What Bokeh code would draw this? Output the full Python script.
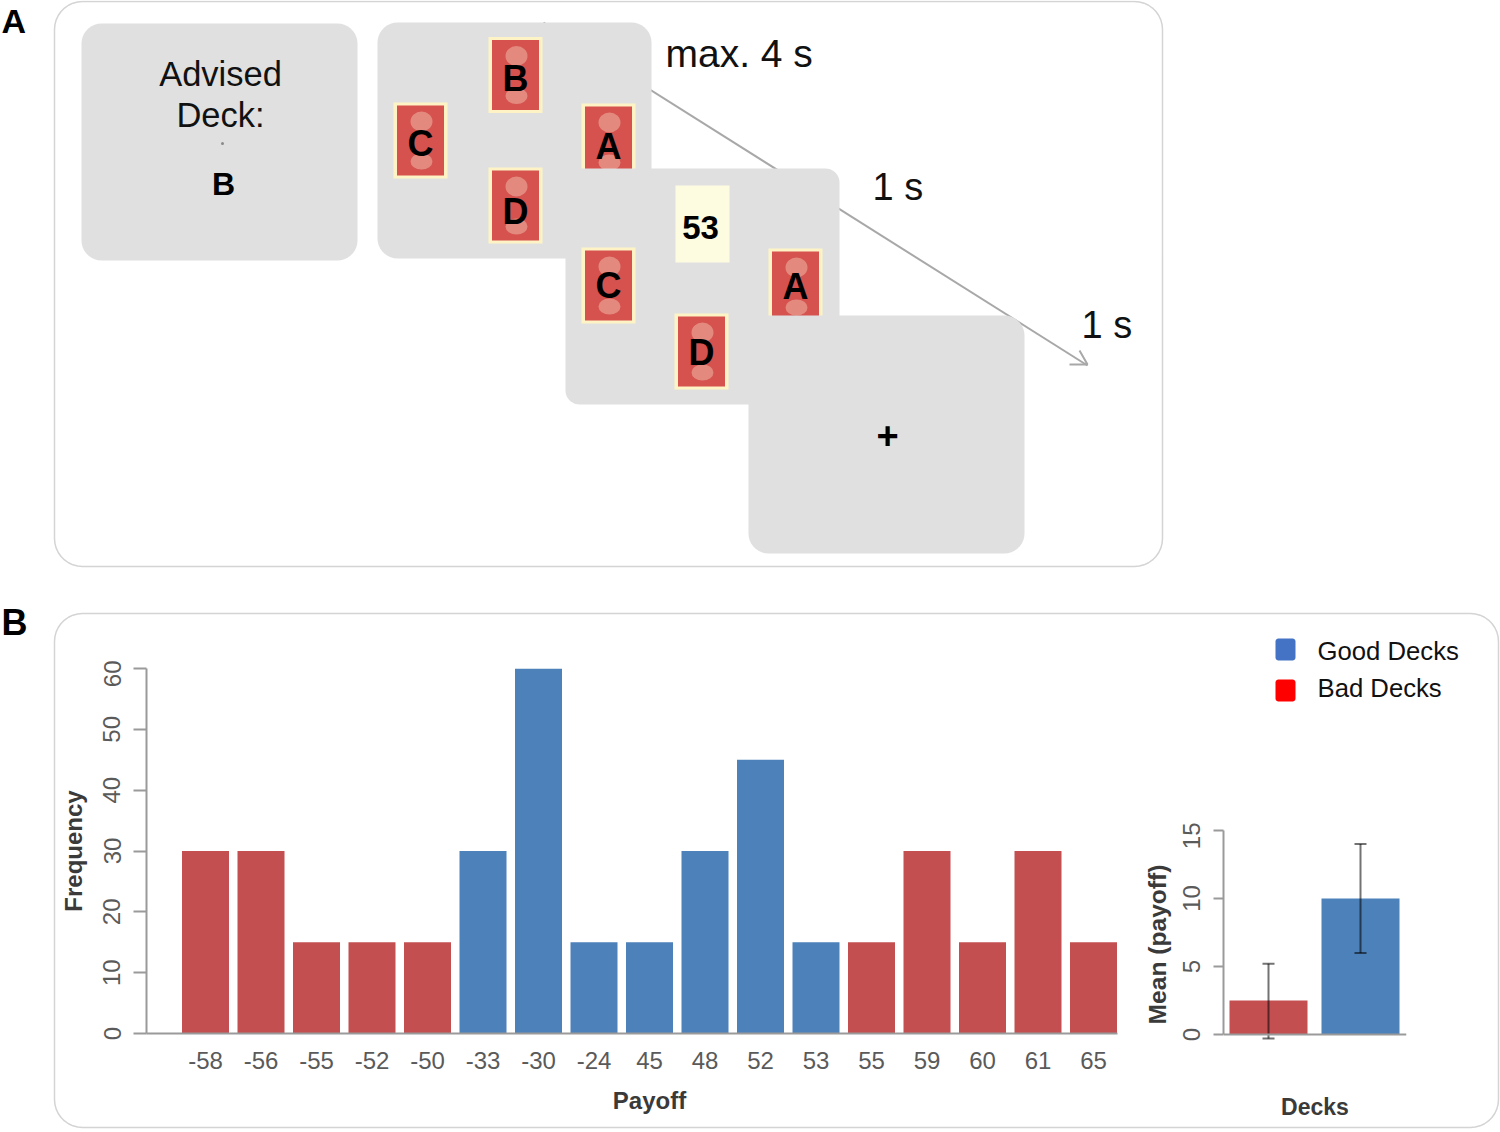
import numpy as np
from bokeh.plotting import figure
from bokeh.models import Range1d, FixedTicker, Column, LinearAxis
from bokeh.core.properties import value
from bokeh.embed import file_html
from bokeh.resources import INLINE

# ---- data ----
payoff_labels = ["-58","-56","-55","-52","-50","-33","-30","-24","45","48","52","53","55","59","60","61","65"]
frequency = [30,30,15,15,15,30,60,15,15,30,45,15,15,30,15,30,15]
deck_kind = ["bad","bad","bad","bad","bad","good","good","good","good","good","good","good","bad","bad","bad","bad","bad"]
deck_names = ["Bad","Good"]
deck_means = [2.5,10]
deck_low = [-0.3,6]
deck_high = [5.2,14]
freq_ticks = [0,10,20,30,40,50,60]
mean_ticks = [0,5,10,15]

RED = "#c34f50"; BLUE = "#4c81b9"; GREY = "#e0e0e0"
FONT = value("Liberation Sans")
TICK = "#5a5a5a"; AX = "#9a9a9a"

# ---- background page: diagram in pixel coordinates ----
bg = figure(width=1500, height=1132, x_range=Range1d(0,1500), y_range=Range1d(1132,0),
            x_axis_location=None, y_axis_location=None, toolbar_location=None,
            output_backend="svg", min_border=0, outline_line_color=None)
bg.grid.visible = False

def rr(x0,y0,x1,y1,r):
    t = np.linspace(0,np.pi/2,10)
    xs = np.concatenate([x1-r+r*np.sin(t), x1-r+r*np.cos(t), x0+r-r*np.sin(t), x0+r-r*np.cos(t)])
    ys = np.concatenate([y0+r-r*np.cos(t), y1-r+r*np.sin(t), y1-r+r*np.cos(t), y0+r-r*np.sin(t)])
    return xs, ys

def box(x0,y0,x1,y1,r,fill=None,line=None,lw=1.5):
    xs,ys = rr(x0,y0,x1,y1,r)
    bg.patch(xs,ys,fill_color=fill,line_color=line,line_width=lw)

def label(x,y,t,size,bold=False,align="center",color="#111111"):
    bg.text([x],[y],text=[t],text_font=FONT,text_font_size=f"{size}px",
            text_font_style="bold" if bold else "normal",text_align=align,
            text_baseline="middle",text_color=color)

def card(cx,cy,letter,dy):
    bg.quad(left=[cx-27],right=[cx+27],top=[cy-38],bottom=[cy+38],fill_color="#fdf3c4",line_color=None)
    bg.quad(left=[cx-23.5],right=[cx+23.5],top=[cy-35],bottom=[cy+35],fill_color="#d5524f",line_color=None)
    bg.ellipse([cx+1],[cy-19],width=22,height=20,fill_color="#eba898",fill_alpha=0.65,line_color=None)
    bg.ellipse([cx+1],[cy+21],width=22,height=16,fill_color="#eba898",fill_alpha=0.65,line_color=None)
    label(cx,cy+dy,letter,36,True,color="#000000")

label(1,20,"A",34,True,"left","#000000")
label(1,622,"B",36,True,"left","#000000")
box(54,1,1162,566,28,"#ffffff","#d4d4d4",1.5)
box(54,613,1498,1127,28,"#ffffff","#d4d4d4",1.5)

# arrow
bg.line([543,1087],[22,365],line_color="#a8a8a8",line_width=2)
bg.line([1069,1087,1079],[364,364,350],line_color="#a8a8a8",line_width=2)

box(81,23,357,260,20,GREY)
label(220,73,"Advised",34.5); label(220,114,"Deck:",34.5)
bg.scatter([222],[143],size=3,fill_color="#8a8a8a",line_color=None)
label(223,183,"B",32,True,color="#000000")

box(377,22,651,258,20,GREY)
card(515,74.5,"B",3); card(420,140,"C",3); card(608,141,"A",5); card(515,205,"D",6)

box(565,168,839,404,14,GREY)
bg.quad(left=[675],right=[729],top=[185],bottom=[262],fill_color="#fdfbe0",line_color=None)
label(700,227,"53",33,True,color="#000000")
card(608,285,"C",0); card(795,286,"A",0); card(701,351,"D",1)

box(748,315,1024,553,20,GREY)
label(887,435,"+",38,True,color="#000000")

label(665,53,"max. 4 s",39,align="left")
label(872,186,"1 s",38,align="left")
label(1081,324,"1 s",38,align="left")

# legend
box(1275,638,1295,660,3,"#4472c4")
box(1275,679,1295,701,3,"#ff0000")
label(1317,650,"Good Decks",25.7,align="left")
label(1317,687,"Bad Decks",25.7,align="left")

def style_axis(ax):
    ax.axis_line_color = AX; ax.axis_line_width = 2
    ax.major_tick_line_color = AX; ax.major_tick_line_width = 2
    ax.minor_tick_line_color = None
    ax.major_label_text_color = TICK
    ax.major_label_text_font = "Liberation Sans"
    ax.axis_label_text_font = "Liberation Sans"
    ax.axis_label_text_font_style = "bold"
    ax.axis_label_text_color = "#3a3a3a"

# ---- main bar chart ----
n = len(payoff_labels)
pos = list(range(n))
STEP = 55.5
x0 = (146-205)/STEP
F1W, F1H = 1006, 365
c1 = figure(frame_width=F1W, frame_height=F1H,
            x_range=Range1d(x0, x0+F1W/STEP), y_range=Range1d(0,60),
            toolbar_location=None, output_backend="svg",
            min_border_left=96, min_border_top=8, min_border_bottom=96, min_border_right=4,
            background_fill_color=None, border_fill_color=None, outline_line_color=None)
c1.grid.visible = False
c1.vbar(x=pos, top=frequency, width=47/STEP, line_color=None,
        fill_color=[RED if k=="bad" else BLUE for k in deck_kind])
xa = c1.xaxis[0]; ya = c1.yaxis[0]
style_axis(xa); style_axis(ya)
xa.ticker = FixedTicker(ticks=pos)
xa.major_label_overrides = {i:s for i,s in zip(pos,payoff_labels)}
xa.major_tick_line_color = None
xa.major_label_text_font_size = "24px"
xa.major_label_standoff = 12
xa.axis_label = "Payoff"; xa.axis_label_text_font_size = "24px"; xa.axis_label_standoff = 15
xa.bounds = (x0, x0+(1117-146)/STEP)
ya.ticker = FixedTicker(ticks=freq_ticks)
ya.bounds = (0,60)
ya.major_tick_out = 13; ya.major_tick_in = 0
ya.major_label_orientation = "vertical"
ya.major_label_text_font_size = "24px"
ya.major_label_standoff = 13
ya.axis_label = "Frequency"; ya.axis_label_text_font_size = "24px"; ya.axis_label_standoff = 14

# ---- small bar chart ----
B_STEP = 92
MEAN_PX = 13.6
xb0 = (1223-1268)/B_STEP
F2W, F2H = 183, 228
c2 = figure(frame_width=F2W, frame_height=F2H,
            x_range=Range1d(xb0, xb0+F2W/B_STEP), y_range=Range1d(15-F2H/MEAN_PX,15),
            toolbar_location=None, output_backend="svg",
            min_border_left=96, min_border_top=8, min_border_bottom=70, min_border_right=6,
            background_fill_color=None, border_fill_color=None, outline_line_color=None)
c2.grid.visible = False
bx = [0,1]
c2.vbar(x=bx, top=deck_means, width=78/B_STEP, line_color=None, fill_color=[RED,BLUE])
c2.segment(x0=bx,x1=bx,y0=deck_low,y1=deck_high,line_color="#000000",line_alpha=0.55,line_width=2)
cap = 6/B_STEP
c2.segment(x0=[b-cap for b in bx],x1=[b+cap for b in bx],y0=deck_low,y1=deck_low,line_color="#000000",line_alpha=0.55,line_width=2)
c2.segment(x0=[b-cap for b in bx],x1=[b+cap for b in bx],y0=deck_high,y1=deck_high,line_color="#000000",line_alpha=0.55,line_width=2)
xa2 = c2.xaxis[0]; ya2 = c2.yaxis[0]
style_axis(xa2); style_axis(ya2)
xa2.ticker = FixedTicker(ticks=[])
xa2.axis_line_color = None
xa2.major_tick_line_color = None
xa2.axis_label = "Decks"; xa2.axis_label_text_font_size = "23px"; xa2.axis_label_standoff = 35
base = LinearAxis(fixed_location=0, ticker=FixedTicker(ticks=[]))
style_axis(base)
base.major_tick_line_color = None
c2.add_layout(base, "below")
ya2.ticker = FixedTicker(ticks=mean_ticks)
ya2.bounds = (0,15)
ya2.major_tick_out = 10; ya2.major_tick_in = 0
ya2.major_label_orientation = "vertical"
ya2.major_label_text_font_size = "24px"
ya2.major_label_standoff = 14
ya2.axis_label = "Mean (payoff)"; ya2.axis_label_text_font_size = "24.6px"; ya2.axis_label_standoff = 9

# each figure sits in its own wrapper so that Bokeh does not align their frames
w0 = Column(children=[bg])
w1 = Column(children=[c1], margin=(668-8-1132, 0, 0, 146-96))
w2 = Column(children=[c2], margin=(830-8-(668-8+365+8+96), 0, 0, 1223-96))
root = Column(children=[w0,w1,w2], margin=(0,0,0,0), spacing=0)
open("out.html","w").write(file_html(root, INLINE))
